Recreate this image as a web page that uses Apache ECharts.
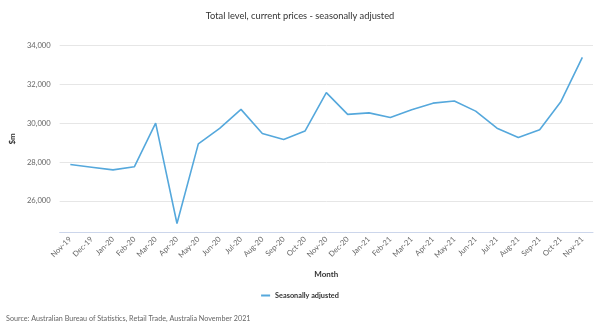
<!DOCTYPE html>
<html>
<head>
<meta charset="utf-8">
<script src="https://cdn.jsdelivr.net/npm/echarts@6/dist/echarts.min.js"></script>
<style>
  html, body { margin: 0; padding: 0; background: #ffffff; }
  #chart { width: 600px; height: 333px; }
</style>
</head>
<body>
<div id="chart"></div>
<script>
// Monthly retail turnover, $m
const months = ['Nov-19','Dec-19','Jan-20','Feb-20','Mar-20','Apr-20','May-20','Jun-20','Jul-20','Aug-20','Sep-20','Oct-20','Nov-20','Dec-20','Jan-21','Feb-21','Mar-21','Apr-21','May-21','Jun-21','Jul-21','Aug-21','Sep-21','Oct-21','Nov-21'];
const seasonallyAdjusted = [27880, 27740, 27600, 27760, 30010, 24840, 28940, 29740, 30720, 29480, 29170, 29600, 31580, 30460, 30540, 30300, 30700, 31040, 31150, 30630, 29750, 29270, 29670, 31130, 33400];
const yTicks = [26000, 28000, 30000, 32000, 34000];

const font = 'Lato, "Open Sans", sans-serif';
const chart = echarts.init(document.getElementById('chart'), null, { renderer: 'canvas' });

chart.setOption({
  animation: false,
  backgroundColor: '#ffffff',
  textStyle: { fontFamily: font },
  title: {
    text: 'Total level, current prices - seasonally adjusted',
    left: 'center',
    top: 6,
    textStyle: { fontFamily: font, fontSize: 9.3, fontWeight: 'normal', color: '#333333' }
  },
  legend: {
    bottom: 29,
    left: 'center',
    itemWidth: 9,
    itemHeight: 2,
    icon: 'rect',
    itemGap: 4,
    textStyle: { fontFamily: font, fontSize: 7.3, fontWeight: 'bold', color: '#333333' },
    data: ['Seasonally adjusted']
  },
  graphic: [{
    type: 'text',
    left: 6,
    top: 315,
    style: {
      text: 'Source: Australian Bureau of Statistics, Retail Trade, Australia November 2021',
      fontFamily: font, fontSize: 7.2, fill: '#666666'
    }
  }],
  grid: { left: 56, right: 7, top: 45.7, bottom: 101, containLabel: false },
  xAxis: {
    type: 'category',
    data: months,
    boundaryGap: true,
    name: 'Month',
    nameLocation: 'middle',
    nameGap: 38,
    nameTextStyle: { fontFamily: font, fontSize: 8, fontWeight: 'bold', color: '#333333' },
    axisLine: { lineStyle: { color: '#ccd6eb', width: 1 } },
    axisTick: { show: false },
    axisLabel: { rotate: 45, fontSize: 7.6, color: '#666666', margin: 6, interval: 0 },
    splitLine: { show: false }
  },
  yAxis: {
    type: 'value',
    min: 24400,
    max: 34000,
    name: '$m',
    nameLocation: 'middle',
    nameRotate: 90,
    nameGap: 41,
    nameTextStyle: { fontFamily: font, fontSize: 8, fontWeight: 'bold', color: '#333333' },
    axisLine: { show: false },
    axisTick: { show: false, customValues: yTicks },
    axisLabel: {
      customValues: yTicks,
      fontSize: 7.6, color: '#666666', margin: 9,
      formatter: v => v.toLocaleString('en-US')
    },
    splitLine: { lineStyle: { color: '#e6e6e6', width: 1 } }
  },
  series: [{
    name: 'Seasonally adjusted',
    type: 'line',
    data: seasonallyAdjusted,
    symbol: 'none',
    color: '#55a8dc',
    lineStyle: { width: 1.6, color: '#55a8dc' }
  }]
});
</script>
</body>
</html>
